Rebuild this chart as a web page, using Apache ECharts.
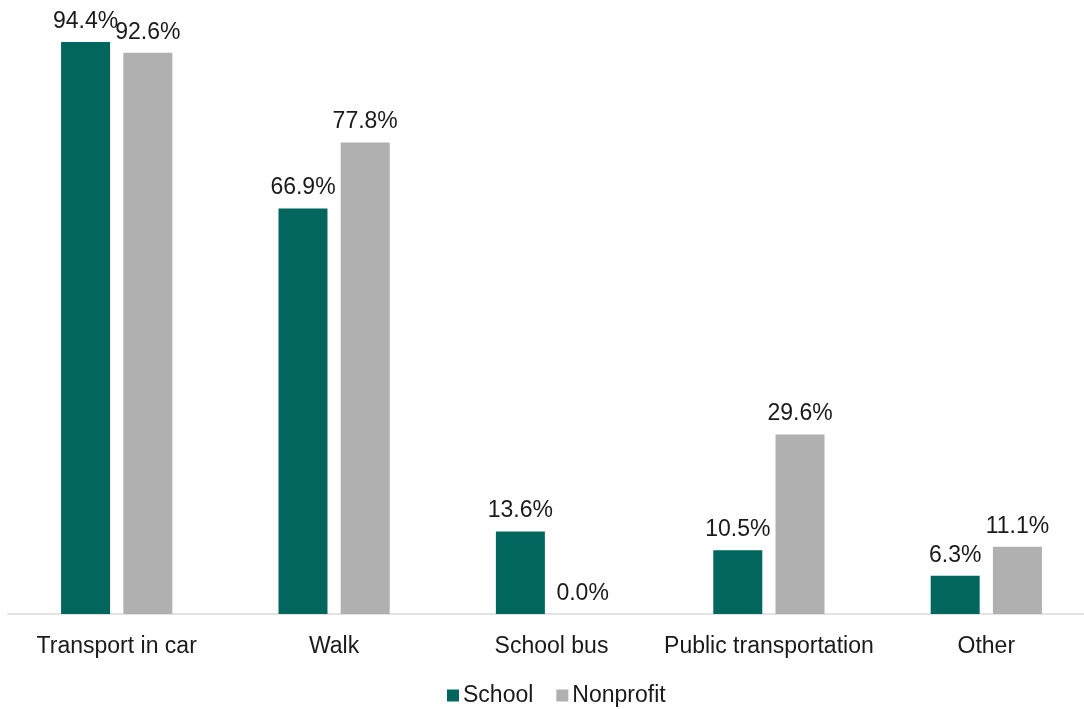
<!DOCTYPE html>
<html>
<head>
<meta charset="utf-8">
<script src="https://cdn.jsdelivr.net/npm/echarts@6/dist/echarts.min.js"></script>
<style>
  html, body { margin: 0; padding: 0; background: #fff; }
  #chart { width: 1084px; height: 709px; }
</style>
</head>
<body>
<div id="chart"></div>
<script>
// Ways students get to the program site, by program type (percent)
const categories = ['Transport in car', 'Walk', 'School bus', 'Public transportation', 'Other'];
const schoolValues = [94.4, 66.9, 13.6, 10.5, 6.3];
const nonprofitValues = [92.6, 77.8, 0.0, 29.6, 11.1];
const seriesNames = ['School', 'Nonprofit'];

const FONT = '"Liberation Sans", Arial, sans-serif';
const TEXT_COLOR = '#1a1a1a';
const FONT_SIZE = 23;

const chart = echarts.init(document.getElementById('chart'), null, { renderer: 'canvas' });

const valueLabel = {
  show: true,
  position: 'top',
  distance: 9,
  color: TEXT_COLOR,
  fontFamily: FONT,
  fontSize: FONT_SIZE,
  formatter: p => p.value.toFixed(1) + '%'
};

chart.setOption({
  animation: false,
  // the plot band runs a little past the right edge of the canvas
  grid: { left: 8, top: 8, width: 1087, bottom: 95, containLabel: false, outerBoundsMode: 'none' },
  legend: {
    bottom: -3,
    left: 442,
    itemWidth: 12,
    itemHeight: 12,
    itemGap: 23,
    icon: 'rect',
    textStyle: { color: TEXT_COLOR, fontFamily: FONT, fontSize: FONT_SIZE, padding: [0, 0, 0, -1] },
    data: seriesNames
  },
  xAxis: {
    type: 'category',
    data: categories,
    axisLine: { show: true, lineStyle: { color: '#d9d9d9', width: 1.5 } },
    axisTick: { show: false },
    axisLabel: { interval: 0, color: TEXT_COLOR, fontFamily: FONT, fontSize: FONT_SIZE, margin: 21 }
  },
  yAxis: {
    type: 'value',
    min: 0,
    max: 100,
    show: false,
    splitLine: { show: false }
  },
  series: [
    {
      name: seriesNames[0],
      type: 'bar',
      data: schoolValues,
      barWidth: 49,
      barGap: '27%',
      itemStyle: { color: '#00665E' },
      label: valueLabel
    },
    {
      name: seriesNames[1],
      type: 'bar',
      data: nonprofitValues,
      barWidth: 49,
      barGap: '27%',
      itemStyle: { color: '#B0B0B0' },
      label: valueLabel
    }
  ]
});
</script>
</body>
</html>
